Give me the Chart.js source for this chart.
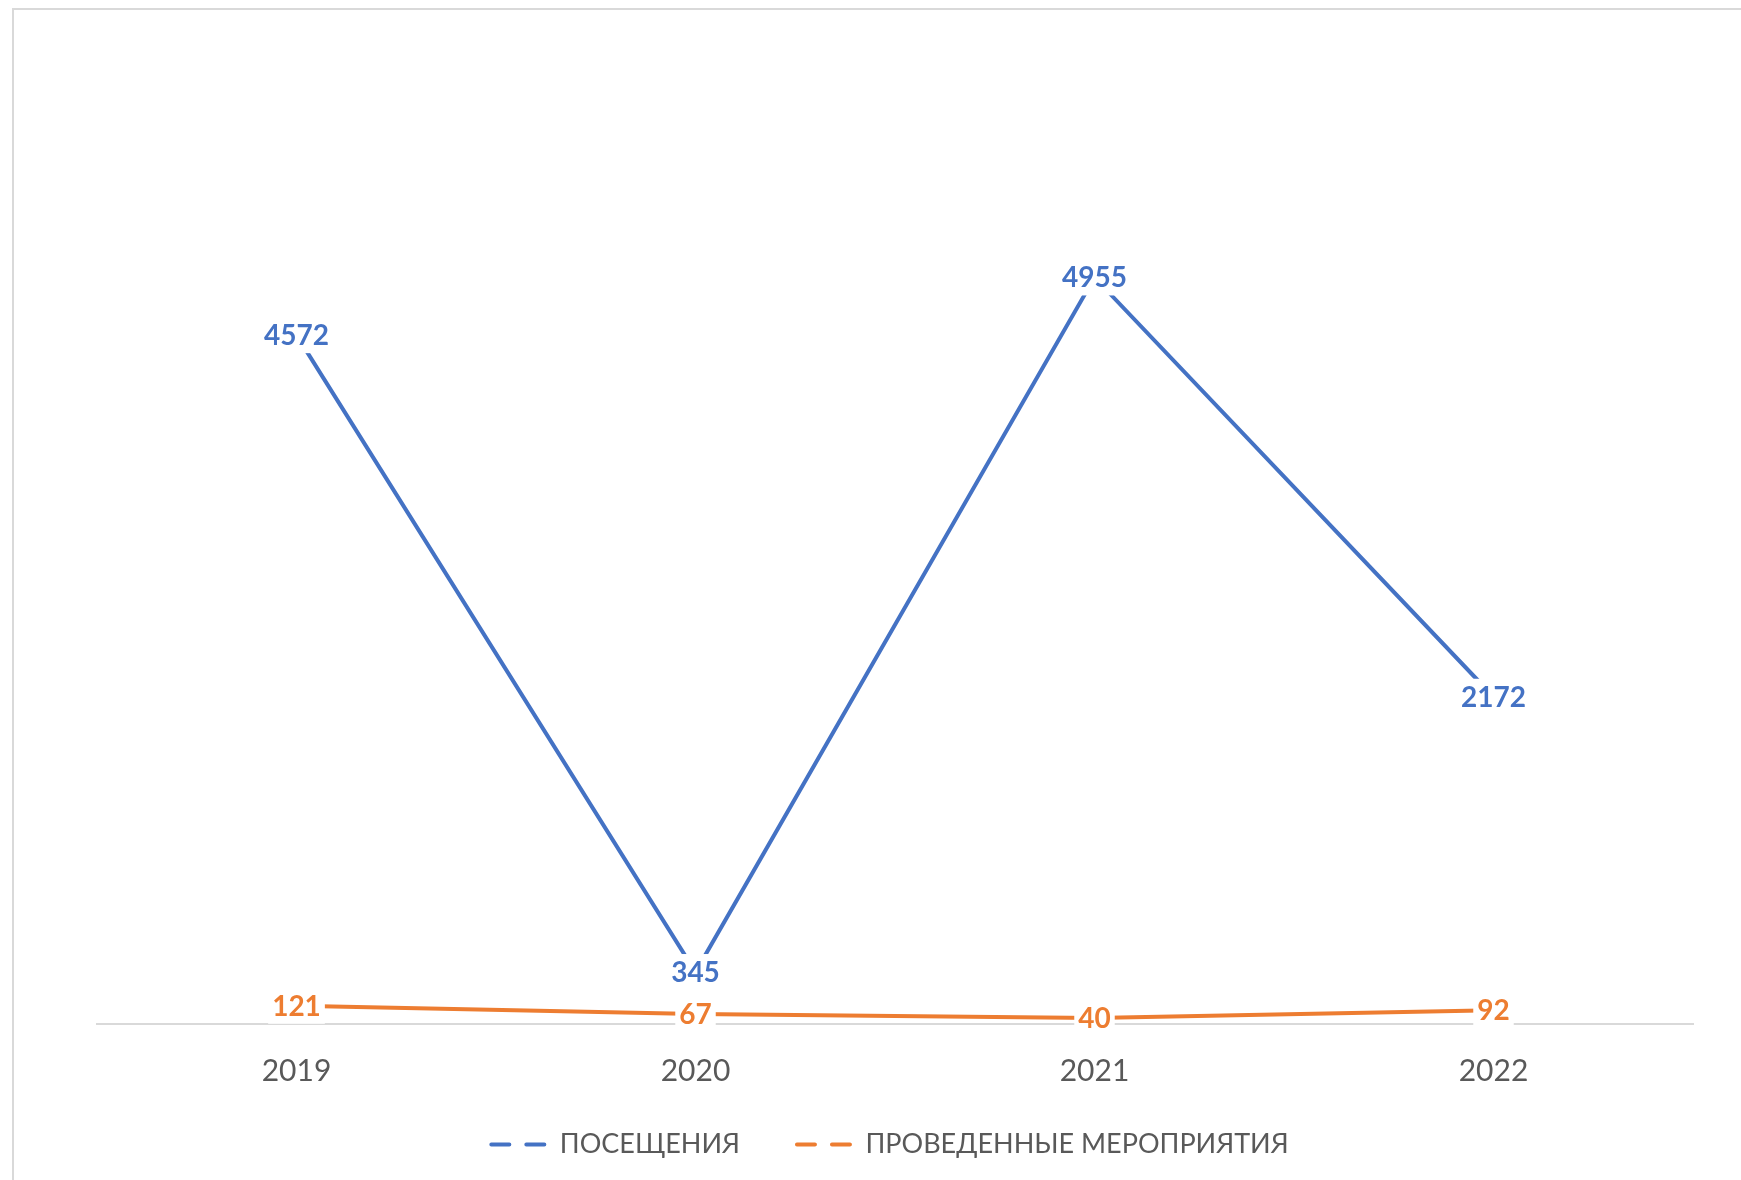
<!DOCTYPE html>
<html><head><meta charset="utf-8">
<script src="https://cdn.jsdelivr.net/npm/chart.js@4.4.1/dist/chart.umd.min.js"></script>
<style>html,body{margin:0;padding:0;background:#fff;overflow:hidden}canvas{display:block}</style>
</head><body>
<canvas id="c" width="1741" height="1180"></canvas>
<script>
const categories = ['2019', '2020', '2021', '2022'];
const visits = [4572, 345, 4955, 2172];
const events = [121, 67, 40, 92];
const seriesNames = ['ПОСЕЩЕНИЯ', 'ПРОВЕДЕННЫЕ МЕРОПРИЯТИЯ'];
const seriesColors = ['#4472C4', '#ED7D31'];
const yMin = 0, yMax = 6000;

const FONT = 'Lato, "Open Sans", "Noto Sans", sans-serif';
Chart.defaults.font.family = FONT;

const frame = {
  id: 'frame',
  beforeDraw(chart) {
    const ctx = chart.ctx;
    ctx.save();
    ctx.fillStyle = '#fff';
    ctx.fillRect(0, 0, chart.width, chart.height);
    ctx.strokeStyle = '#d9d9d9';
    ctx.lineWidth = 2;
    ctx.beginPath();
    ctx.moveTo(13, chart.height + 5);
    ctx.lineTo(13, 9);
    ctx.lineTo(chart.width + 5, 9);
    ctx.stroke();
    ctx.restore();
  }
};

const legendShift = {
  id: 'legendShift',
  afterLayout(chart) {
    if (chart.legend) {
      chart.legend.left -= 12;
      chart.legend.right -= 12;
    }
  }
};

const valueLabels = {
  id: 'valueLabels',
  afterDatasetsDraw(chart) {
    const ctx = chart.ctx;
    ctx.save();
    ctx.font = 'bold 28px ' + FONT;
    ctx.textAlign = 'center';
    ctx.textBaseline = 'middle';
    chart.data.datasets.forEach((ds, i) => {
      const meta = chart.getDatasetMeta(i);
      meta.data.forEach((pt, j) => {
        const txt = String(ds.data[j]);
        const w = ctx.measureText(txt).width + 8;
        const h = 36;
        ctx.fillStyle = '#fff';
        ctx.fillRect(pt.x - w / 2, pt.y - h / 2, w, h);
        ctx.fillStyle = ds.borderColor;
        ctx.fillText(txt, pt.x, pt.y + 1);
      });
    });
    ctx.restore();
  }
};

new Chart(document.getElementById('c'), {
  type: 'line',
  data: {
    labels: categories,
    datasets: [
      { label: seriesNames[0], data: visits, borderColor: seriesColors[0], backgroundColor: seriesColors[0], borderWidth: 4, pointRadius: 0, tension: 0 },
      { label: seriesNames[1], data: events, borderColor: seriesColors[1], backgroundColor: seriesColors[1], borderWidth: 4, pointRadius: 0, tension: 0 }
    ]
  },
  options: {
    responsive: false,
    animation: false,
    devicePixelRatio: 1,
    layout: { padding: { left: 97, right: 48, top: 120, bottom: 12 } },
    scales: {
      x: {
        offset: true,
        grid: { display: false, drawTicks: false },
        border: { display: true, color: '#d9d9d9', width: 2 },
        ticks: { color: '#595959', font: { size: 30 }, padding: 29 },
        afterFit(scale) { scale.height = 64; }
      },
      y: { display: false, min: yMin, max: yMax }
    },
    plugins: {
      tooltip: { enabled: false },
      legend: {
        position: 'bottom',
        labels: {
          color: '#595959',
          font: { size: 27 },
          padding: 43,
          usePointStyle: true,
          pointStyle: 'line',
          pointStyleWidth: 69,
          generateLabels(chart) {
            return chart.data.datasets.map((ds, i) => ({
              text: ds.label,
              fillStyle: ds.borderColor,
              strokeStyle: ds.borderColor,
              lineWidth: 4,
              lineDash: [18, 17, 18, 100],
              lineDashOffset: 139,
              lineCap: 'round',
              pointStyle: 'line',
              fontColor: '#595959',
              datasetIndex: i,
              hidden: false
            }));
          }
        }
      }
    }
  },
  plugins: [frame, legendShift, valueLabels]
});
</script>
</body></html>
